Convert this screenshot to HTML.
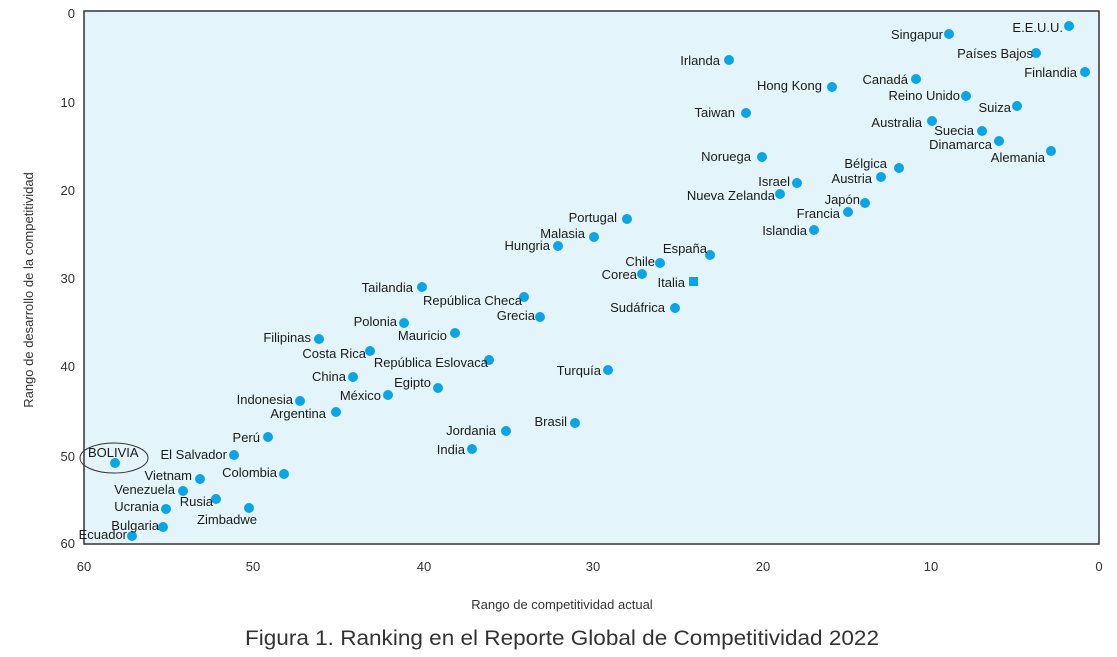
<!DOCTYPE html>
<html><head><meta charset="utf-8"><style>
html,body{margin:0;padding:0;background:#fff;}
svg{display:block;}
text{font-family:"Liberation Sans",Arial,sans-serif;}
.l{font-size:13px;fill:#1a1a1a;text-anchor:end;}
.t{font-size:13px;fill:#333;}
</style></head><body>
<svg width="1117" height="657" viewBox="0 0 1117 657" xmlns="http://www.w3.org/2000/svg">
<rect x="84" y="11" width="1015" height="533" fill="#e3f5fa" stroke="#333" stroke-width="1.5"/>
<!-- y ticks -->
<g class="t" text-anchor="end">
<text x="75" y="18" text-anchor="end">0</text>
<text x="75" y="107" text-anchor="end">10</text>
<text x="75" y="195" text-anchor="end">20</text>
<text x="75" y="283" text-anchor="end">30</text>
<text x="75" y="371" text-anchor="end">40</text>
<text x="75" y="461" text-anchor="end">50</text>
<text x="75" y="548" text-anchor="end">60</text>
</g>
<g class="t">
<text x="84" y="571" text-anchor="middle">60</text>
<text x="253" y="571" text-anchor="middle">50</text>
<text x="424" y="571" text-anchor="middle">40</text>
<text x="593" y="571" text-anchor="middle">30</text>
<text x="763" y="571" text-anchor="middle">20</text>
<text x="931" y="571" text-anchor="middle">10</text>
<text x="1099" y="571" text-anchor="middle">0</text>
</g>
<text class="t" x="562" y="609" text-anchor="middle">Rango de competitividad actual</text>
<text class="t" x="0" y="0" text-anchor="middle" transform="translate(33,290) rotate(-90)">Rango de desarrollo de la competitividad</text>
<text x="562" y="645" text-anchor="middle" font-size="21" fill="#333" textLength="634" lengthAdjust="spacingAndGlyphs">Figura 1. Ranking en el Reporte Global de Competitividad 2022</text>
<!-- dots -->
<g fill="#0ba4e4">
<circle cx="1069" cy="26" r="5"/><circle cx="949" cy="34" r="5"/><circle cx="1036" cy="53" r="5"/><circle cx="1085" cy="72" r="5"/>
<circle cx="832" cy="87" r="5"/><circle cx="916" cy="79" r="5"/><circle cx="966" cy="96" r="5"/><circle cx="1017" cy="106" r="5"/>
<circle cx="932" cy="121" r="5"/><circle cx="982" cy="131" r="5"/><circle cx="999" cy="141" r="5"/><circle cx="1051" cy="151" r="5"/>
<circle cx="899" cy="168" r="5"/><circle cx="881" cy="177" r="5"/><circle cx="865" cy="203" r="5"/><circle cx="848" cy="212" r="5"/>
<circle cx="814" cy="230" r="5"/><circle cx="729" cy="60" r="5"/><circle cx="746" cy="113" r="5"/><circle cx="762" cy="157" r="5"/>
<circle cx="797" cy="183" r="5"/><circle cx="780" cy="194" r="5"/><circle cx="627" cy="219" r="5"/><circle cx="594" cy="237" r="5"/>
<circle cx="558" cy="246" r="5"/><circle cx="710" cy="255" r="5"/><circle cx="660" cy="263" r="5"/><circle cx="642" cy="274" r="5"/>
<rect x="689" y="277" width="9" height="9"/>
<circle cx="675" cy="308" r="5"/><circle cx="524" cy="297" r="5"/><circle cx="540" cy="317" r="5"/><circle cx="422" cy="287" r="5"/>
<circle cx="608" cy="370" r="5"/><circle cx="455" cy="333" r="5"/><circle cx="489" cy="360" r="5"/><circle cx="438" cy="388" r="5"/>
<circle cx="404" cy="323" r="5"/><circle cx="319" cy="339" r="5"/><circle cx="370" cy="351" r="5"/><circle cx="353" cy="377" r="5"/>
<circle cx="388" cy="395" r="5"/><circle cx="300" cy="401" r="5"/><circle cx="336" cy="412" r="5"/><circle cx="268" cy="437" r="5"/>
<circle cx="506" cy="431" r="5"/><circle cx="472" cy="449" r="5"/><circle cx="575" cy="423" r="5"/><circle cx="115" cy="463" r="5"/>
<circle cx="234" cy="455" r="5"/><circle cx="200" cy="479" r="5"/><circle cx="284" cy="474" r="5"/><circle cx="183" cy="491" r="5"/>
<circle cx="216" cy="499" r="5"/><circle cx="166" cy="509" r="5"/><circle cx="249" cy="508" r="5"/><circle cx="163" cy="527" r="5"/>
<circle cx="132" cy="536" r="5"/>
</g>
<ellipse cx="114" cy="458" rx="34" ry="15" fill="none" stroke="#333" stroke-width="1"/>
<!-- labels -->
<g class="l">
<text x="1063" y="32">E.E.U.U.</text>
<text x="943" y="39">Singapur</text>
<text x="1033" y="58">Países Bajos</text>
<text x="1077" y="77">Finlandia</text>
<text x="908" y="84">Canadá</text>
<text x="960" y="100">Reino Unido</text>
<text x="1011" y="112">Suiza</text>
<text x="922" y="127">Australia</text>
<text x="974" y="135">Suecia</text>
<text x="992" y="149">Dinamarca</text>
<text x="1045" y="162">Alemania</text>
<text x="887" y="168">Bélgica</text>
<text x="872" y="183">Austria</text>
<text x="860" y="204">Japón</text>
<text x="840" y="218">Francia</text>
<text x="807" y="235">Islandia</text>
<text x="720" y="65">Irlanda</text>
<text x="822" y="90">Hong Kong</text>
<text x="735" y="117">Taiwan</text>
<text x="751" y="161">Noruega</text>
<text x="790" y="186">Israel</text>
<text x="775" y="200">Nueva Zelanda</text>
<text x="617" y="222">Portugal</text>
<text x="585" y="238">Malasia</text>
<text x="550" y="250">Hungria</text>
<text x="707" y="253">España</text>
<text x="655" y="266">Chile</text>
<text x="637" y="279">Corea</text>
<text x="685" y="287">Italia</text>
<text x="665" y="312">Sudáfrica</text>
<text x="522" y="305">República Checa</text>
<text x="535" y="320">Grecia</text>
<text x="413" y="292">Tailandia</text>
<text x="397" y="326">Polonia</text>
<text x="447" y="340">Mauricio</text>
<text x="311" y="342">Filipinas</text>
<text x="366" y="358">Costa Rica</text>
<text x="488" y="367">República Eslovaca</text>
<text x="346" y="381">China</text>
<text x="601" y="375">Turquía</text>
<text x="431" y="387">Egipto</text>
<text x="381" y="400">México</text>
<text x="293" y="404">Indonesia</text>
<text x="326" y="418">Argentina</text>
<text x="567" y="426">Brasil</text>
<text x="496" y="435">Jordania</text>
<text x="260" y="442">Perú</text>
<text x="465" y="454">India</text>
<text x="88" y="457" text-anchor="start">BOLIVIA</text>
<text x="227" y="459">El Salvador</text>
<text x="277" y="477">Colombia</text>
<text x="192" y="480">Vietnam</text>
<text x="175" y="494">Venezuela</text>
<text x="213" y="506">Rusia</text>
<text x="159" y="511">Ucrania</text>
<text x="257" y="524">Zimbadwe</text>
<text x="159" y="530">Bulgaria</text>
<text x="127" y="539">Ecuador</text>
</g>
</svg>
</body></html>
